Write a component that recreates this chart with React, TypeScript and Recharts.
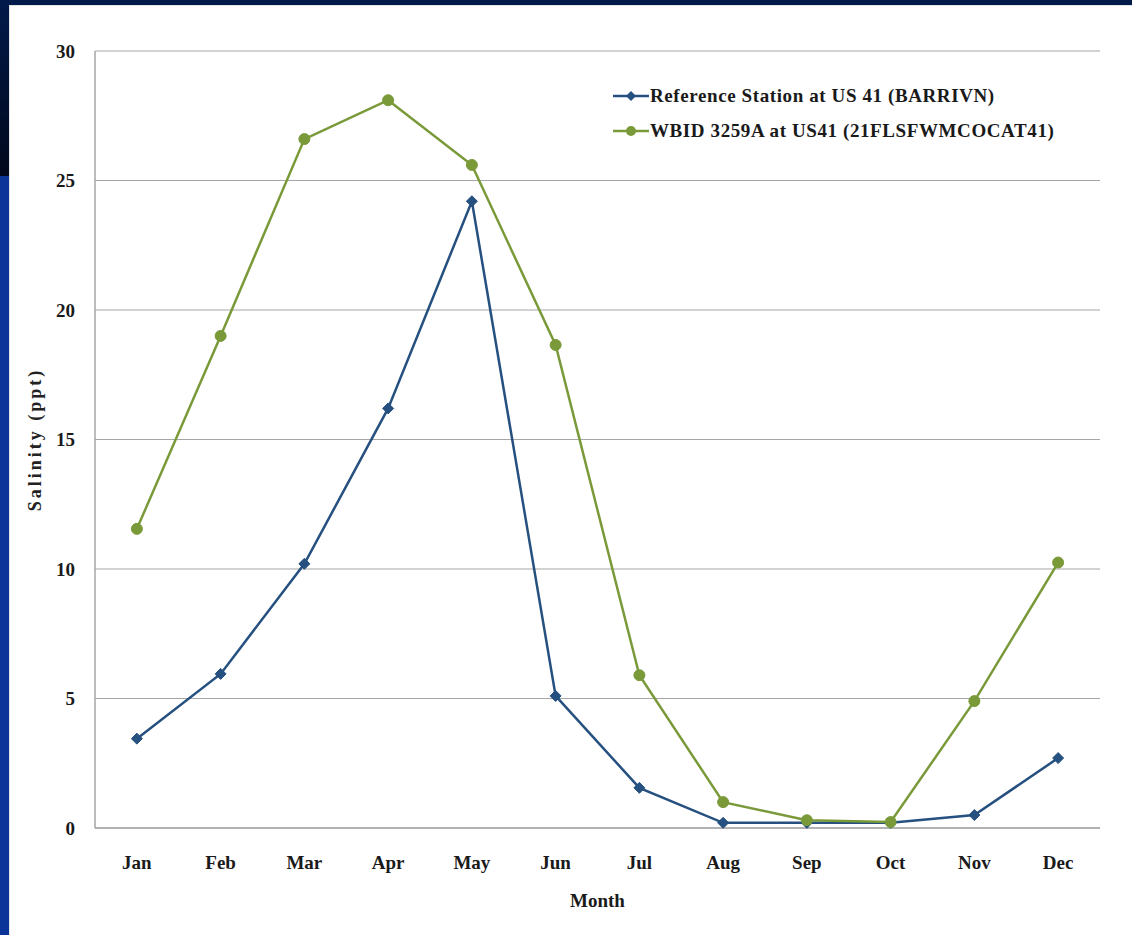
import React from 'react';
import { LineChart, Line, XAxis, YAxis, CartesianGrid } from 'recharts';

const months = ['Jan', 'Feb', 'Mar', 'Apr', 'May', 'Jun', 'Jul', 'Aug', 'Sep', 'Oct', 'Nov', 'Dec'];
const referenceStation = [3.45, 5.95, 10.2, 16.2, 24.2, 5.1, 1.55, 0.2, 0.2, 0.2, 0.5, 2.7];
const wbid3259A = [11.55, 19.0, 26.6, 28.1, 25.6, 18.65, 5.9, 1.0, 0.3, 0.23, 4.9, 10.25];
const yTicks = [0, 5, 10, 15, 20, 25, 30];

const seriesNames = {
  ref: 'Reference Station at US 41 (BARRIVN)',
  wbid: 'WBID 3259A at US41 (21FLSFWMCOCAT41)',
};

const data = months.map((m, i) => ({
  month: m,
  ref: referenceStation[i],
  wbid: wbid3259A[i],
}));

const BLUE = '#25507f';
const GREEN = '#7a9a3a';
const FONT = '"Liberation Serif", "Times New Roman", serif';

// diamond marker for the reference station series
function Diamond(props: any) {
  const { cx, cy } = props;
  if (cx == null || cy == null) return null;
  const r = 5.5;
  return (
    <path
      d={`M${cx},${cy - r} L${cx + r},${cy} L${cx},${cy + r} L${cx - r},${cy} Z`}
      fill={BLUE}
      stroke={BLUE}
      strokeWidth={1}
    />
  );
}

function YTitle(props: any) {
  const vb = props.viewBox || {};
  const cy = vb.y + vb.height / 2;
  const cx = 35;
  return (
    <text
      x={cx}
      y={cy}
      transform={`rotate(-90, ${cx}, ${cy})`}
      textAnchor="middle"
      dominantBaseline="central"
      fontFamily={FONT}
      fontWeight="bold"
      fontSize={18}
      letterSpacing={3}
      fill="#222"
    >
      Salinity (ppt)
    </text>
  );
}

function LegendBox() {
  const rows = [
    { name: seriesNames.ref, color: BLUE, shape: 'diamond' },
    { name: seriesNames.wbid, color: GREEN, shape: 'circle' },
  ];
  return (
    <div
      style={{
        position: 'absolute',
        left: 613,
        top: 78,
        fontFamily: FONT,
        fontWeight: 'bold',
        fontSize: 19,
        letterSpacing: 0.6,
        color: '#1a1a1a',
      }}
    >
      {rows.map((r) => (
        <div key={r.name} style={{ display: 'flex', alignItems: 'center', height: 35 }}>
          <svg width={36} height={14} style={{ marginRight: 1 }}>
            <line x1={0} y1={7} x2={36} y2={7} stroke={r.color} strokeWidth={2.5} />
            {r.shape === 'diamond' ? (
              <path d="M18,2 L23,7 L18,12 L13,7 Z" fill={r.color} />
            ) : (
              <circle cx={18} cy={7} r={5} fill={r.color} />
            )}
          </svg>
          <span style={{ whiteSpace: 'nowrap' }}>{r.name}</span>
        </div>
      ))}
    </div>
  );
}

export default function App() {
  const tickStyle = { fontFamily: FONT, fontWeight: 'bold' as const, fontSize: 19, fill: '#1a1a1a' };
  return (
    <div
      style={{
        position: 'absolute',
        top: 0,
        left: 0,
        width: 1132,
        height: 935,
        background: '#0b3598',
        overflow: 'hidden',
      }}
    >
      {/* slide decoration: dark top band and dark upper-left block */}
      <div style={{ position: 'absolute', top: 0, left: 0, width: 1132, height: 6, background: '#021a4a' }} />
      <div
        style={{
          position: 'absolute',
          top: 0,
          left: 0,
          width: 10,
          height: 176,
          background: 'linear-gradient(#021a4a, #01081c)',
        }}
      />
      <div
        style={{
          position: 'absolute',
          top: 5,
          left: 9,
          width: 1123,
          height: 930,
          background: '#ffffff',
          borderLeft: '1px solid #e4e4e4',
          borderTop: '1px solid #e4e4e4',
        }}
      />
      <div style={{ position: 'absolute', top: 0, left: 0 }}>
        <LineChart width={1132} height={935} data={data} margin={{ top: 51, right: 32, bottom: 47, left: 20 }}>
          <CartesianGrid vertical={false} stroke="#a6a6a6" strokeWidth={1.2} />
          <XAxis
            dataKey="month"
            scale="band"
            axisLine={{ stroke: '#a6a6a6', strokeWidth: 1.5 }}
            tickLine={false}
            tickMargin={22}
            tick={tickStyle}
            height={60}
            label={{
              value: 'Month',
              position: 'bottom',
              offset: 6,
              style: { fontFamily: FONT, fontWeight: 'bold', fontSize: 19, fill: '#1a1a1a' },
            }}
          />
          <YAxis
            domain={[0, 30]}
            ticks={yTicks}
            axisLine={{ stroke: '#a6a6a6', strokeWidth: 1.5 }}
            tickLine={false}
            tickMargin={14}
            tick={tickStyle}
            width={75}
            label={<YTitle />}
          />
          <Line
            dataKey="ref"
            name={seriesNames.ref}
            stroke={BLUE}
            strokeWidth={2.5}
            dot={<Diamond />}
            activeDot={false}
            isAnimationActive={false}
          />
          <Line
            dataKey="wbid"
            name={seriesNames.wbid}
            stroke={GREEN}
            strokeWidth={2.5}
            dot={{ r: 5.5, fill: GREEN, stroke: GREEN, strokeWidth: 1 }}
            activeDot={false}
            isAnimationActive={false}
          />
        </LineChart>
      </div>
      <LegendBox />
    </div>
  );
}
